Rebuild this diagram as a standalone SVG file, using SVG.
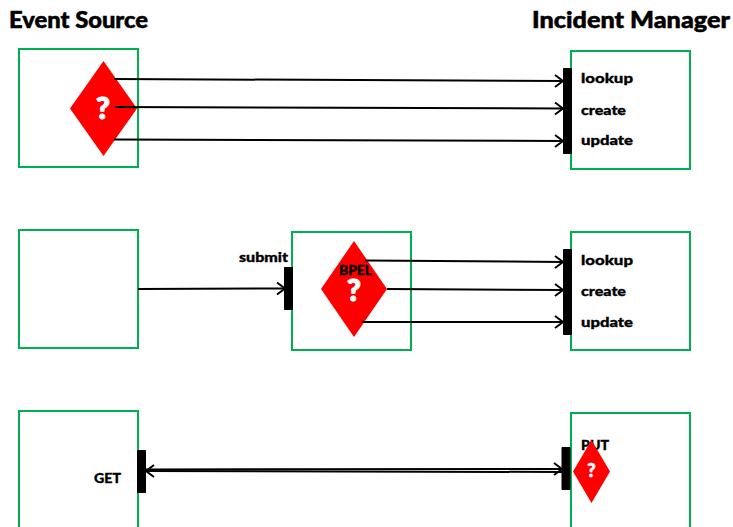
<svg xmlns="http://www.w3.org/2000/svg" width="733" height="527" viewBox="0 0 733 527">
<style>
.box{fill:#fff;stroke:#00b050;stroke-width:2}
.bar{fill:#000;stroke:#000;stroke-width:1;stroke-linejoin:round}
.dia{fill:#f00}
.c{fill:none;stroke:#000;stroke-width:2}
text{font-family:"Lato","Liberation Sans",sans-serif;font-weight:900;fill:#000;stroke:#000;stroke-width:.35}
.h{font-size:22px;stroke-width:.5}
.l{font-size:14px}
.q{fill:#fff;stroke:#fff;stroke-width:1.2;text-anchor:middle}
</style>
<defs>
<marker id="a" markerUnits="userSpaceOnUse" markerWidth="14" markerHeight="16" refX="11" refY="7" orient="auto" overflow="visible"><path d="M3 1L11 7L3 13" fill="none" stroke="#000" stroke-width="2"/></marker>
</defs>
<g id="title-source"><text class="h" x="9" y="28" textLength="139" lengthAdjust="spacingAndGlyphs">Event Source</text></g>
<g id="title-manager"><text class="h" x="532" y="28" textLength="198" lengthAdjust="spacingAndGlyphs">Incident Manager</text></g>
<g id="source1"><rect class="box" x="19" y="49" width="119" height="118"/><path class="dia" d="M103.500 61L137 108.500L103.500 156L70 108.500Z"/><text class="q" x="103" y="119" font-size="30">?</text></g>
<g id="manager1"><rect class="box" x="571" y="51" width="119" height="118"/><rect class="bar" x="563.500" y="68.500" width="8" height="85"/><text class="l" x="581" y="83" textLength="52" lengthAdjust="spacingAndGlyphs">lookup</text><text class="l" x="581" y="115" textLength="45" lengthAdjust="spacingAndGlyphs">create</text><text class="l" x="581" y="145" textLength="52" lengthAdjust="spacingAndGlyphs">update</text></g>
<g id="source2"><rect class="box" x="19" y="230" width="119" height="118"/></g>
<g id="bpel"><rect class="box" x="292" y="232" width="119" height="118"/><rect class="bar" x="284.500" y="267.500" width="8" height="42"/><path class="dia" d="M354 241L387 289L354 337L321 289Z"/><text class="q" x="354" y="300.500" font-size="30">?</text><text class="l" x="339" y="275" textLength="33" lengthAdjust="spacingAndGlyphs">BPEL</text><text class="l" x="239" y="262" textLength="49" lengthAdjust="spacingAndGlyphs">submit</text></g>
<g id="manager2"><rect class="box" x="571" y="232" width="119" height="118"/><rect class="bar" x="563.500" y="249.500" width="8" height="85"/><text class="l" x="581" y="265" textLength="52" lengthAdjust="spacingAndGlyphs">lookup</text><text class="l" x="581" y="296" textLength="45" lengthAdjust="spacingAndGlyphs">create</text><text class="l" x="581" y="327" textLength="52" lengthAdjust="spacingAndGlyphs">update</text></g>
<g id="source3"><rect class="box" x="19" y="411" width="119" height="118"/><rect class="bar" x="137.500" y="450.500" width="8" height="42"/><text class="l" x="94" y="483" textLength="27" lengthAdjust="spacingAndGlyphs">GET</text></g>
<g id="manager3"><rect class="box" x="571" y="413" width="119" height="118"/><rect class="bar" x="562" y="447.500" width="8" height="42"/><text class="l" x="581" y="450" textLength="28" lengthAdjust="spacingAndGlyphs">PUT</text><path class="dia" d="M591.500 440L610 471.500L591.500 503L573 471.500Z"/><text class="q" x="591.500" y="477" font-size="18" style="stroke-width:.7">?</text></g>
<g id="connectors">
<path class="c" marker-end="url(#a)" d="M114 79L563 81"/>
<path class="c" marker-end="url(#a)" d="M115 107L563 108.500"/>
<path class="c" marker-end="url(#a)" d="M114 139.500L563 141"/>
<path class="c" marker-end="url(#a)" d="M138 289L285 288.500"/>
<path class="c" marker-end="url(#a)" d="M365 260.500L563 262"/>
<path class="c" marker-end="url(#a)" d="M387 289L563 290"/>
<path class="c" marker-end="url(#a)" d="M362 322L563 322"/>
<path class="c" marker-end="url(#a)" d="M146 469.500L562 469"/>
<path class="c" marker-end="url(#a)" d="M562 472L146 471"/>
</g>
</svg>
